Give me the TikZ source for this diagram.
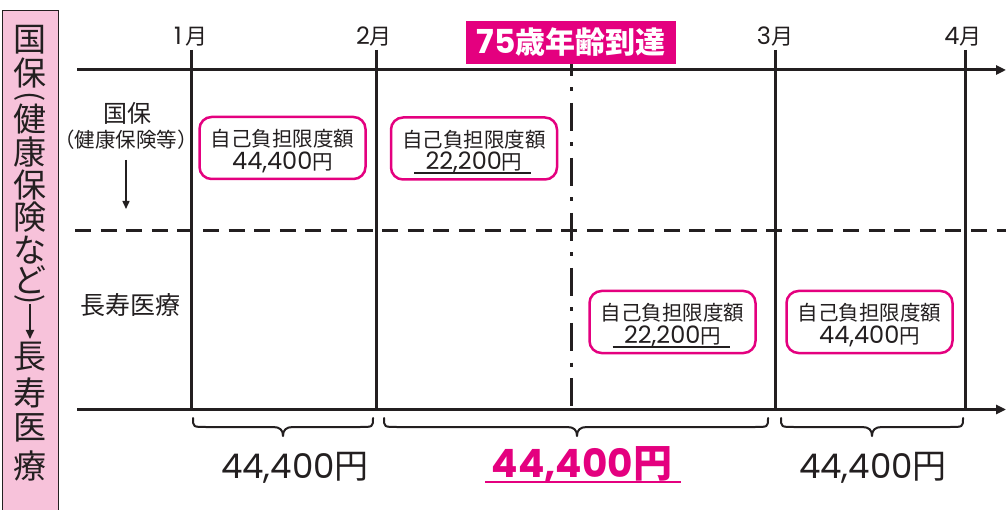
\documentclass[tikz,border=0pt]{standalone}
\usepackage{fontspec}
\setmainfont{Noto Sans CJK JP}
\newfontfamily\dig{Poppins}
\usetikzlibrary{arrows.meta,calc}
\definecolor{mag}{HTML}{E4007F}
\definecolor{pinkbg}{HTML}{F7C2DA}
\definecolor{ink}{HTML}{231F20}
\newcommand\fs[1]{\fontsize{#1}{#1}\selectfont}
\newcommand\mybrace[3]{\draw[bracestyle] (#1,418) .. controls (#1,427) .. (#1+13,427) -- (#2-10,427) .. controls (#2-3,427) and (#2,430) .. (#2,436) .. controls (#2,430) and (#2+3,427) .. (#2+10,427) -- (#3-13,427) .. controls (#3,427) .. (#3,418);}
\begin{document}
\begin{tikzpicture}[x=1pt,y=-1pt,
  axisline/.style={line width=3pt, draw=ink, -{Triangle[length=10pt,width=9pt]}},
  vline/.style={line width=3pt, draw=ink},
  dashline/.style={line width=3pt, draw=ink, dash pattern=on 16pt off 9.6pt},
  dashdot/.style={line width=3pt, draw=ink, dash pattern=on 28pt off 11.5pt on 4pt off 11.5pt, dash phase=16pt},
  limbox/.style={draw=mag, line width=2.5pt, rounded corners=12pt, fill=white, minimum width=166pt, minimum height=62pt, inner sep=0pt},
  boxtext/.style={font=\fs{20.5}, text=ink, inner sep=0pt},
  uline/.style={line width=1.6pt, draw=ink},
  month/.style={font=\fs{22}, text=ink, inner sep=0pt},
  sidelabel/.style={font=\fs{24}, text=ink, inner sep=0pt},
  vchar/.style={font=\fs{33}, text=ink, inner sep=0pt},
  bracestyle/.style={line width=2pt, draw=ink, line cap=round, line join=round},
  sumtext/.style={font=\fs{34}, text=ink, inner sep=0pt},
]
\useasboundingbox (0,0) rectangle (1006,510);
\fill[white] (0,0) rectangle (1006,510);

% left vertical title box
\node[draw=ink, fill=pinkbg, line width=1.3pt, minimum width=56pt, minimum height=520pt, anchor=north west, inner sep=0pt] (side) at (2,10) {};
\node[vchar] (v1) at (30,40) {国};
\node[vchar] (v2) at (30,73) {保};
\node[vchar, rotate=-90, font=\fs{30}] (v3) at (30,97) {(};
\node[vchar] (v4) at (30,119) {健};
\node[vchar] (v5) at (30,152) {康};
\node[vchar] (v6) at (30,185) {保};
\node[vchar] (v7) at (30,217) {険};
\node[vchar] (v8) at (30,250) {な};
\node[vchar] (v9) at (30,280) {ど};
\node[vchar, rotate=-90, font=\fs{30}] (v10) at (30,300) {)};
\coordinate (va) at (30,304);
\coordinate (vb) at (30,339);
\draw[line width=2pt, draw=ink, -{Triangle[length=9pt,width=8pt]}] (va) -- (vb);
\node[vchar] (v11) at (30,357) {長};
\node[vchar] (v12) at (30,393) {寿};
\node[vchar] (v13) at (30,428) {医};
\node[vchar] (v14) at (30,466) {療};

% coordinates
\coordinate (tl) at (77,70);   \coordinate (tr) at (1006,70);
\coordinate (bl) at (77,409.5); \coordinate (br) at (1006,409.5);
\coordinate (dl) at (75,231);  \coordinate (dr) at (1006,231);

% month vertical lines
\foreach \n/\x in {m1/191, m2/376, m3/775, m4/965} {
  \coordinate (\n t) at (\x,50);
  \coordinate (\n b) at (\x,409.5);
  \draw[vline] (\n t) -- (\n b);
}
\node[month] (l1) at (191,37) {{\dig\fs{24}1\,}月};
\node[month] (l2) at (374,37) {{\dig\fs{24}2}月};
\node[month] (l3) at (775,37) {{\dig\fs{24}3}月};
\node[month] (l4) at (963,37) {{\dig\fs{24}4}月};

% dashed separator
\draw[dashline] (dl) -- (dr);

% 75 line
\coordinate (at) at (571,64);
\coordinate (ab) at (571,409.5);
\draw[dashdot] (at) -- (ab);

% axes
\draw[axisline] (tl) -- (tr);
\draw[axisline] (bl) -- (br);

% 75 label
\node[fill=mag, minimum width=210pt, minimum height=43pt, inner sep=0pt, text=white, font=\fs{30}\bfseries] (age) at (571,42.5) {{\dig\fs{33}75}歳年齢到達};

% left labels
\node[sidelabel] (kok) at (127,113) {国保};
\node[font=\fs{20.5}, text=ink, inner sep=0pt] (ken) at (126,140) {（健康保険等）};
\coordinate (ka) at (126,160);
\coordinate (kb) at (126,209);
\draw[line width=1.5pt, draw=ink, -{Triangle[length=8pt,width=7pt]}] (ka) -- (kb);
\node[sidelabel, font=\fs{25}] (cho) at (130,305) {長寿医療};

% limit boxes
\node[limbox] (b1) at (282.5,148) {};
\node[limbox] (b2) at (474,148.5) {};
\node[limbox] (b3) at (672.5,322) {};
\node[limbox] (b4) at (869.5,322) {};
\foreach \b in {b1,b2,b3,b4} {
  \node[boxtext] (\b a) at ($(\b.center)+(0,-9)$) {自己負担限度額};
}
\node[boxtext] (b1b) at ($(b1.center)+(0,14)$) {{\dig\fs{24}44,400}円};
\node[boxtext] (b2b) at ($(b2.center)+(0,14)$) {{\dig\fs{24}22,200}円};
\node[boxtext] (b3b) at ($(b3.center)+(0,14)$) {{\dig\fs{24}22,200}円};
\node[boxtext] (b4b) at ($(b4.center)+(0,14)$) {{\dig\fs{24}44,400}円};
\draw[uline] ($(b2.center)+(-60,24.5)$) -- ($(b2.center)+(57,24.5)$);
\draw[uline] ($(b3.center)+(-60,25)$) -- ($(b3.center)+(57,25)$);

% braces
\mybrace{193}{283}{373}
\mybrace{384}{577}{768}
\mybrace{781}{872}{963}

% sums
\node[sumtext] (s1) at (295,468) {{\dig 44,400}円};
\node[sumtext, text=mag, font=\fs{39}\bfseries] (s2) at (582,465) {{\dig\bfseries 44,400}円};
\draw[line width=2.5pt, draw=mag] ($(s2.center)+(-97,17)$) -- ($(s2.center)+(99,17)$);
\node[sumtext] (s3) at (873,468) {{\dig 44,400}円};
\end{tikzpicture}
\end{document}
